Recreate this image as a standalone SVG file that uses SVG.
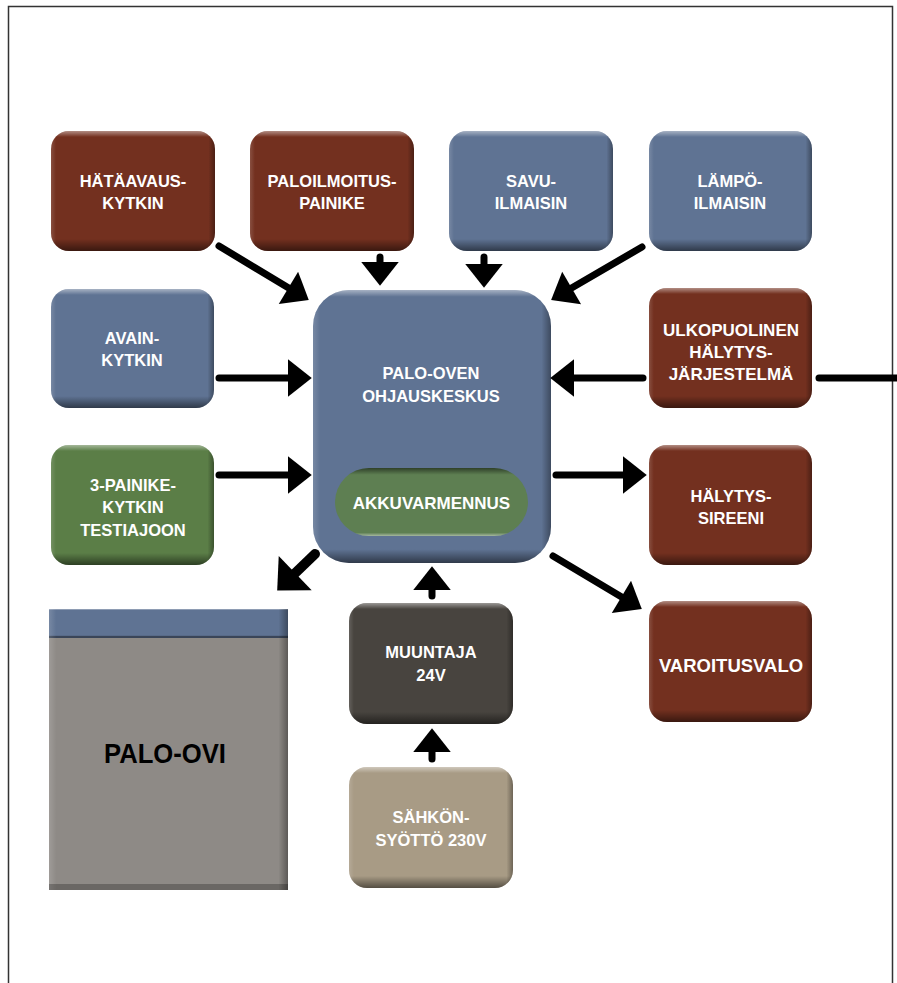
<svg xmlns="http://www.w3.org/2000/svg" width="897" height="983" viewBox="0 0 897 983">
<defs>
<linearGradient id="shV" x1="0" y1="0" x2="0" y2="1">
<stop offset="0" stop-color="#fff" stop-opacity="0.45"/>
<stop offset="0.05" stop-color="#fff" stop-opacity="0"/>
<stop offset="0.9" stop-color="#000" stop-opacity="0"/>
<stop offset="1" stop-color="#000" stop-opacity="0.5"/>
</linearGradient>
<linearGradient id="shVb" x1="0" y1="0" x2="0" y2="1">
<stop offset="0" stop-color="#fff" stop-opacity="0.45"/>
<stop offset="0.025" stop-color="#fff" stop-opacity="0"/>
<stop offset="0.95" stop-color="#000" stop-opacity="0"/>
<stop offset="1" stop-color="#000" stop-opacity="0.5"/>
</linearGradient>
<linearGradient id="shH" x1="0" y1="0" x2="1" y2="0">
<stop offset="0" stop-color="#fff" stop-opacity="0.15"/>
<stop offset="0.03" stop-color="#fff" stop-opacity="0"/>
<stop offset="0.96" stop-color="#000" stop-opacity="0"/>
<stop offset="1" stop-color="#000" stop-opacity="0.35"/>
</linearGradient>
<marker id="ah" markerUnits="userSpaceOnUse" markerWidth="40" markerHeight="40" viewBox="0 -16 22 32" refX="8" refY="0" orient="auto">
<path d="M0,-15 L19,0 L0,15 Z" fill="#000"/>
</marker>
<marker id="ahb" markerUnits="userSpaceOnUse" markerWidth="50" markerHeight="50" viewBox="0 -20 24 40" refX="8" refY="0" orient="auto">
<path d="M0,-19 L20,0 L0,19 Z" fill="#000"/>
</marker>
</defs>
<style>
.red{fill:#73301f}
.blue{fill:#5f7393}
.green{fill:#5b7e47}
.agreen{fill:#5e7f52}
.dark{fill:#48443f}
.tan{fill:#a89b85}
.gray{fill:#8e8a86}
.sv{fill:url(#shV)}
.svb{fill:url(#shVb)}
.sh{fill:url(#shH)}
text{font-family:"Liberation Sans",Arial,sans-serif;font-weight:bold;font-size:16.5px;fill:#fff;text-anchor:middle}
.conn line{stroke:#000;stroke-width:7;stroke-linecap:round;fill:none}
</style>
<path d="M8.5,983 V6.5 H892.5 V983" fill="none" stroke="#333" stroke-width="1.5"/>

<g id="n-hataavaus">
<rect x="51" y="131" width="164" height="120" rx="18" class="red"/>
<rect x="51" y="131" width="164" height="120" rx="18" class="sv"/>
<rect x="51" y="131" width="164" height="120" rx="18" class="sh"/>
<text x="133" y="187">HÄTÄAVAUS-</text>
<text x="133" y="209">KYTKIN</text>
</g>
<g id="n-paloilmoitus">
<rect x="250" y="131" width="164" height="120" rx="18" class="red"/>
<rect x="250" y="131" width="164" height="120" rx="18" class="sv"/>
<rect x="250" y="131" width="164" height="120" rx="18" class="sh"/>
<text x="332" y="187">PALOILMOITUS-</text>
<text x="332" y="209">PAINIKE</text>
</g>
<g id="n-savu">
<rect x="449" y="131" width="164" height="120" rx="18" class="blue"/>
<rect x="449" y="131" width="164" height="120" rx="18" class="sv"/>
<rect x="449" y="131" width="164" height="120" rx="18" class="sh"/>
<text x="531" y="187">SAVU-</text>
<text x="531" y="209">ILMAISIN</text>
</g>
<g id="n-lampo">
<rect x="649" y="131" width="163" height="120" rx="18" class="blue"/>
<rect x="649" y="131" width="163" height="120" rx="18" class="sv"/>
<rect x="649" y="131" width="163" height="120" rx="18" class="sh"/>
<text x="730" y="187">LÄMPÖ-</text>
<text x="730" y="209">ILMAISIN</text>
</g>
<g id="n-avain">
<rect x="51" y="289" width="163" height="119" rx="18" class="blue"/>
<rect x="51" y="289" width="163" height="119" rx="18" class="sv"/>
<rect x="51" y="289" width="163" height="119" rx="18" class="sh"/>
<text x="132" y="344">AVAIN-</text>
<text x="132" y="366">KYTKIN</text>
</g>
<g id="n-ohjauskeskus">
<rect x="313" y="290" width="238" height="273" rx="36" class="blue"/>
<rect x="313" y="290" width="238" height="273" rx="36" class="svb"/>
<rect x="313" y="290" width="238" height="273" rx="36" class="sh"/>
<text x="431" y="379">PALO-OVEN</text>
<text x="431" y="402">OHJAUSKESKUS</text>
</g>
<g id="n-akku">
<rect x="335" y="468" width="193" height="68" rx="34" class="agreen"/>
<rect x="335" y="468" width="193" height="68" rx="34" fill="url(#shV)" transform="rotate(180 431.5 502)"/>
<text x="431.5" y="509" style="font-size:17px">AKKUVARMENNUS</text>
</g>
<g id="n-ulkopuolinen">
<rect x="649" y="288" width="163" height="120" rx="18" class="red"/>
<rect x="649" y="288" width="163" height="120" rx="18" class="sv"/>
<rect x="649" y="288" width="163" height="120" rx="18" class="sh"/>
<text x="731" y="336" style="font-size:17px">ULKOPUOLINEN</text>
<text x="731" y="358" style="font-size:17px">HÄLYTYS-</text>
<text x="731" y="380" style="font-size:17px">JÄRJESTELMÄ</text>
</g>
<g id="n-3painike">
<rect x="51" y="445" width="163" height="120" rx="18" class="green"/>
<rect x="51" y="445" width="163" height="120" rx="18" class="sv"/>
<rect x="51" y="445" width="163" height="120" rx="18" class="sh"/>
<text x="133" y="491">3-PAINIKE-</text>
<text x="133" y="513">KYTKIN</text>
<text x="133" y="536">TESTIAJOON</text>
</g>
<g id="n-sireeni">
<rect x="649" y="445" width="163" height="120" rx="18" class="red"/>
<rect x="649" y="445" width="163" height="120" rx="18" class="sv"/>
<rect x="649" y="445" width="163" height="120" rx="18" class="sh"/>
<text x="731" y="502">HÄLYTYS-</text>
<text x="731" y="524">SIREENI</text>
</g>
<g id="n-varoitusvalo">
<rect x="649" y="601" width="163" height="121" rx="18" class="red"/>
<rect x="649" y="601" width="163" height="121" rx="18" class="sv"/>
<rect x="649" y="601" width="163" height="121" rx="18" class="sh"/>
<text x="731" y="672" style="font-size:18.5px">VAROITUSVALO</text>
</g>
<g id="n-muuntaja">
<rect x="349" y="603" width="164" height="121" rx="18" class="dark"/>
<rect x="349" y="603" width="164" height="121" rx="18" class="sv"/>
<rect x="349" y="603" width="164" height="121" rx="18" class="sh"/>
<text x="431" y="658">MUUNTAJA</text>
<text x="431" y="681">24V</text>
</g>
<g id="n-sahko">
<rect x="349" y="767" width="164" height="121" rx="18" class="tan"/>
<rect x="349" y="767" width="164" height="121" rx="18" class="sv"/>
<rect x="349" y="767" width="164" height="121" rx="18" class="sh"/>
<text x="431" y="823">SÄHKÖN-</text>
<text x="431" y="846">SYÖTTÖ 230V</text>
</g>
<g id="n-paloovi">
<rect x="49" y="609" width="239" height="281" class="gray"/>
<rect x="49" y="609" width="239" height="29" class="blue"/>
<rect x="49" y="609" width="239" height="29" fill="url(#shV)"/>
<rect x="49" y="636" width="239" height="2" fill="#3a4558"/>
<rect x="49" y="609" width="239" height="281" class="sh"/>
<rect x="49" y="884" width="239" height="6" fill="#000" opacity="0.25"/>
<text x="165" y="763" textLength="122" lengthAdjust="spacingAndGlyphs" style="font-size:28px;fill:#000">PALO-OVI</text>
</g>

<g class="conn" id="connectors">
<line x1="219" y1="246" x2="297" y2="293" marker-end="url(#ah)"/>
<line x1="380" y1="257" x2="380" y2="272" marker-end="url(#ah)"/>
<line x1="484" y1="257" x2="484" y2="274" marker-end="url(#ah)"/>
<line x1="642" y1="247" x2="563" y2="293" marker-end="url(#ah)"/>
<line x1="219" y1="378" x2="298" y2="378" marker-end="url(#ah)"/>
<line x1="643" y1="378" x2="564" y2="378" marker-end="url(#ah)"/>
<line x1="819" y1="378" x2="900" y2="378"/>
<line x1="219" y1="475" x2="298" y2="475" marker-end="url(#ah)"/>
<line x1="556" y1="475" x2="633" y2="475" marker-end="url(#ah)"/>
<line x1="553" y1="556" x2="630" y2="602" marker-end="url(#ah)"/>
<line x1="315" y1="554" x2="288" y2="580" marker-end="url(#ahb)" style="stroke-width:10"/>
<line x1="432" y1="596" x2="432" y2="580" marker-end="url(#ah)"/>
<line x1="432" y1="759" x2="432" y2="742" marker-end="url(#ah)"/>
</g>
</svg>
